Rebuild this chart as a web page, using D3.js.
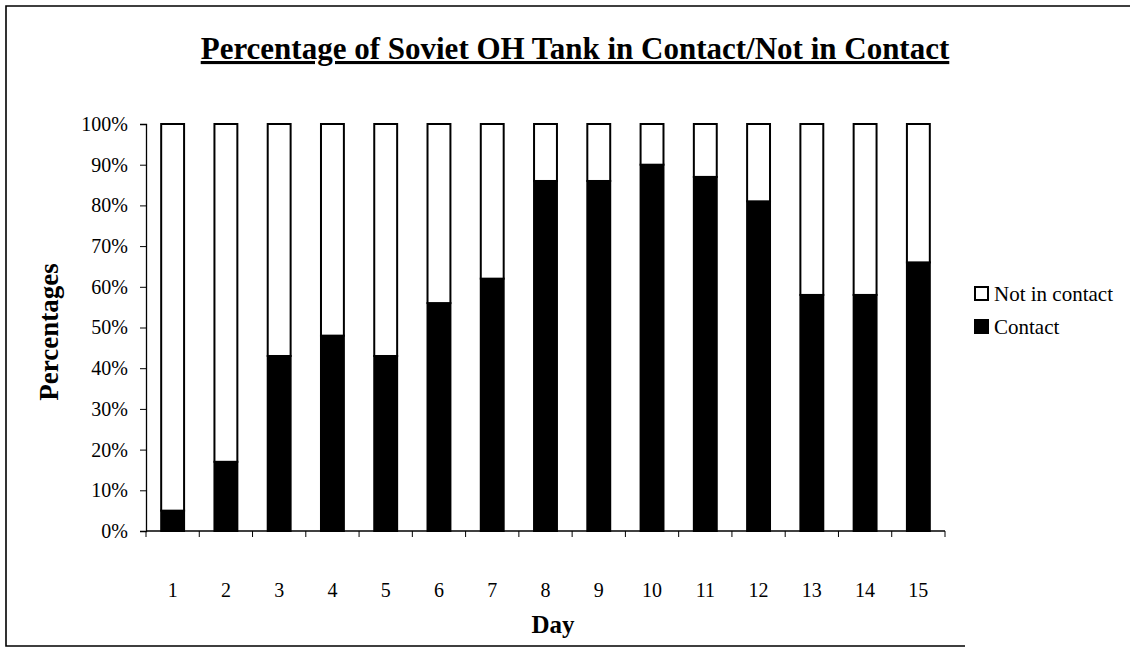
<!DOCTYPE html>
<html>
<head>
<meta charset="utf-8">
<script src="https://cdn.jsdelivr.net/npm/d3@7"></script>
<style>
  body { margin: 0; background: #fff; }
  svg text { font-family: "Liberation Serif", "Times New Roman", serif !important; fill: #000; }
</style>
</head>
<body>
<svg id="chart" width="1130" height="653"></svg>
<script>
// data
const days = ["1","2","3","4","5","6","7","8","9","10","11","12","13","14","15"];
const contact = [5, 17, 43, 48, 43, 56, 62, 86, 86, 90, 87, 81, 58, 58, 66];
const notContact = contact.map(v => 100 - v);
const seriesNames = ["Contact", "Not in contact"];
const yTicks = [0, 10, 20, 30, 40, 50, 60, 70, 80, 90, 100];

const serif = "'Liberation Serif', 'Times New Roman', serif";
const svg = d3.select("#chart");
const margin = {left: 146, right: 185, top: 124, bottom: 122};
const width = 1130 - margin.left - margin.right;
const height = 653 - margin.top - margin.bottom;

// frame of the scanned page
svg.append("path")
  .attr("d", "M1130,6 L6,6 L6,646 L965,646")
  .attr("fill", "none").attr("stroke", "#000").attr("stroke-width", 1.6);

svg.append("text")
  .attr("x", 575).attr("y", 59)
  .attr("text-anchor", "middle")
  .attr("font-family", serif)
  .style("font-size", "31px").style("font-weight", "bold")
  .style("text-decoration", "underline")
  .text("Percentage of Soviet OH Tank in Contact/Not in Contact");

const g = svg.append("g").attr("transform", `translate(${margin.left},${margin.top})`);

const x = d3.scaleBand().domain(days).range([0, width]).paddingInner(0.57).paddingOuter(0.285);
const y = d3.scaleLinear().domain([0, 100]).range([height, 0]);

const table = days.map((d, i) => ({day: d, "Contact": contact[i], "Not in contact": notContact[i]}));
const stacked = d3.stack().keys(seriesNames)(table);
const fills = {"Contact": "#000", "Not in contact": "#fff"};

g.selectAll("g.layer")
  .data(stacked)
  .join("g")
  .attr("class", "layer")
  .attr("fill", d => fills[d.key])
  .selectAll("rect")
  .data(d => d)
  .join("rect")
  .attr("x", d => x(d.data.day))
  .attr("y", d => y(d[1]))
  .attr("width", x.bandwidth())
  .attr("height", d => y(d[0]) - y(d[1]))
  .attr("stroke", "#000")
  .attr("stroke-width", 2);

// y axis
const yAxis = g.append("g")
  .call(d3.axisLeft(y).tickValues(yTicks).tickFormat(d => d + "%").tickSize(6).tickPadding(12));
yAxis.attr("font-family", serif).attr("font-size", 20);
yAxis.select(".domain").attr("stroke-width", 1.3);

// x axis with ticks at category boundaries
const step = x.step();
const xAxis = g.append("g").attr("transform", `translate(0,${height})`);
xAxis.append("line").attr("x1", 0).attr("x2", width).attr("stroke", "#000").attr("stroke-width", 1.3);
xAxis.selectAll("line.tk")
  .data(d3.range(days.length + 1))
  .join("line").attr("class", "tk")
  .attr("x1", i => i * step).attr("x2", i => i * step)
  .attr("y1", 0).attr("y2", 6)
  .attr("stroke", "#000");
xAxis.selectAll("text.lbl")
  .data(days)
  .join("text").attr("class", "lbl")
  .attr("x", d => x(d) + x.bandwidth() / 2)
  .attr("y", 66)
  .attr("text-anchor", "middle")
  .attr("font-family", serif)
  .style("font-size", "20px")
  .text(d => d);

svg.append("text")
  .attr("x", 553).attr("y", 633)
  .attr("text-anchor", "middle")
  .attr("font-family", serif)
  .style("font-size", "25px").style("font-weight", "bold")
  .text("Day");

svg.append("text")
  .attr("transform", "translate(58,332) rotate(-90)")
  .attr("text-anchor", "middle")
  .attr("font-family", serif)
  .style("font-size", "27px").style("font-weight", "bold")
  .text("Percentages");

// legend
const legendItems = ["Not in contact", "Contact"];
const legend = svg.append("g").attr("transform", "translate(975,287)");
legend.selectAll("rect")
  .data(legendItems)
  .join("rect")
  .attr("x", 0).attr("y", (d, i) => i * 33)
  .attr("width", 13).attr("height", 13)
  .attr("fill", d => fills[d])
  .attr("stroke", "#000").attr("stroke-width", 2);
legend.selectAll("text")
  .data(legendItems)
  .join("text")
  .attr("x", 19).attr("y", (d, i) => i * 33 + 14)
  .attr("font-family", serif)
  .style("font-size", "21px")
  .text(d => d);
</script>
</body>
</html>
